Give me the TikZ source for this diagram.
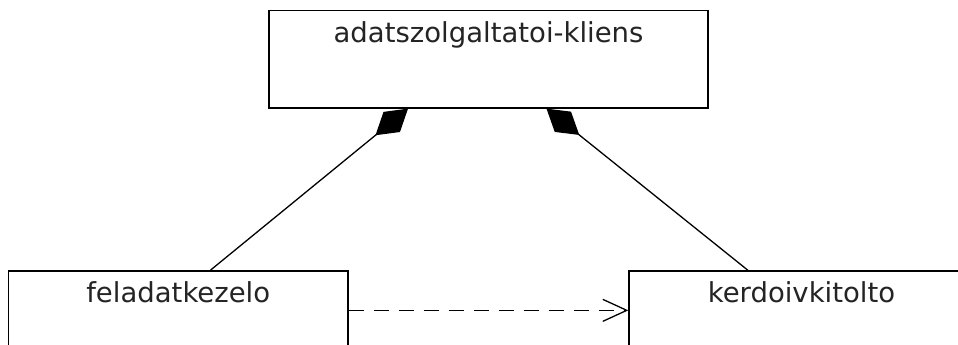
\documentclass[tikz,border=0pt]{standalone}
\usepackage{fontspec}
\setmainfont{DejaVu Sans}
\usetikzlibrary{arrows.meta}
\definecolor{inkgray}{HTML}{242424}
\tikzset{
  classbox/.style={draw=black, line width=1.3pt, fill=white, rectangle, inner sep=0pt},
  classname/.style={text=inkgray, font=\fontsize{27.5pt}{30pt}\selectfont, anchor=base, inner sep=0pt},
  comp/.style={line width=1.3pt, {Diamond[length=42pt,width=26pt]}-},
  dep/.style={line width=1.3pt, dash pattern=on 15pt off 10pt, -{Straight Barb[length=24pt,width=22pt,line width=1.3pt]}}
}
\begin{document}
\begin{tikzpicture}[x=1pt,y=1pt]
  \useasboundingbox (0,0) rectangle (958,-345);
  % class boxes
  \node[classbox, minimum width=439pt, minimum height=97.3pt] (client) at (488.5,-59.35) {};
  \node[classbox, minimum width=339.5pt, minimum height=129pt] (tasks) at (178.25,-335.5) {};
  \node[classbox, minimum width=345pt, minimum height=129pt] (survey) at (801.5,-335.5) {};
  % class names
  \node[classname] (clientname) at ([yshift=-32.8pt]client.north) {adatszolgaltatoi-kliens};
  \node[classname] (tasksname) at ([yshift=-32pt]tasks.north) {feladatkezelo};
  \node[classname] (surveyname) at ([yshift=-32pt]survey.north) {kerdoivkitolto};
  % compositions
  \draw[comp] ([xshift=-80.5pt]client.south) -- ([xshift=32pt]tasks.north);
  \draw[comp] ([xshift=58pt]client.south) -- ([xshift=-53.5pt]survey.north);
  % dependency
  \draw[dep] ([yshift=-40pt]tasks.north east) -- ([yshift=-40pt]survey.north west);
\end{tikzpicture}
\end{document}
